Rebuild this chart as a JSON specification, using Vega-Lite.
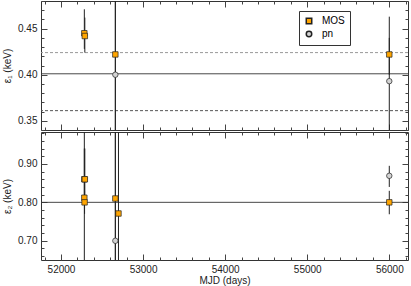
{
  "$schema": "https://vega.github.io/schema/vega-lite/v6.json",
  "padding": {"left": 2, "top": 0, "right": 4, "bottom": 0},
  "spacing": 0,
  "config": {
    "font": "Liberation Sans",
    "view": {"stroke": "#333", "strokeWidth": 1},
    "axis": {"grid": false, "labelFont": "Liberation Sans", "titleFont": "Liberation Sans", "labelFontSize": 10, "titleFontSize": 10, "titleFontWeight": "normal", "labelColor": "#222", "titleColor": "#222", "tickColor": "#444", "domain": false},
    "legend": {"labelFont": "Liberation Sans", "labelFontSize": 10}
  },
  "datasets": {
    "p1": [
      {"mjd": 52284, "e": 0.445, "lo": 0.428, "hi": 0.471, "inst": "MOS"},
      {"mjd": 52290, "e": 0.442, "lo": 0.424, "hi": 0.462, "inst": "MOS"},
      {"mjd": 52662, "e": 0.422, "lo": 0.30, "hi": 0.50, "inst": "MOS"},
      {"mjd": 52662, "e": 0.400, "lo": 0.30, "hi": 0.50, "inst": "pn"},
      {"mjd": 56000, "e": 0.422, "lo": 0.40, "hi": 0.463, "inst": "MOS"},
      {"mjd": 56000, "e": 0.393, "lo": 0.30, "hi": 0.44, "inst": "pn"}
    ],
    "p2": [
      {"mjd": 52284, "e": 0.86, "lo": 0.80, "hi": 0.94, "inst": "MOS"},
      {"mjd": 52290, "e": 0.86, "lo": 0.81, "hi": 0.94, "inst": "MOS"},
      {"mjd": 52284, "e": 0.812, "lo": 0.60, "hi": 1.00, "inst": "MOS"},
      {"mjd": 52287, "e": 0.80, "lo": 0.77, "hi": 0.83, "inst": "MOS"},
      {"mjd": 52662, "e": 0.81, "lo": 0.60, "hi": 1.00, "inst": "MOS"},
      {"mjd": 52662, "e": 0.70, "lo": 0.60, "hi": 1.00, "inst": "pn"},
      {"mjd": 52700, "e": 0.771, "lo": 0.60, "hi": 1.00, "inst": "MOS"},
      {"mjd": 56000, "e": 0.869, "lo": 0.84, "hi": 0.895, "inst": "pn"},
      {"mjd": 56000, "e": 0.80, "lo": 0.769, "hi": 0.83, "inst": "MOS"}
    ],
    "ref": [
      {"panel": 1, "y": 0.401, "kind": "solid"},
      {"panel": 1, "y": 0.424, "kind": "light"},
      {"panel": 1, "y": 0.361, "kind": "dark"},
      {"panel": 2, "y": 0.80, "kind": "solid"}
    ]
  },
  "resolve": {"scale": {"x": "independent", "y": "independent", "fill": "independent", "shape": "independent"}, "legend": {"fill": "independent", "shape": "independent"}},
  "vconcat": [
    {
      "width": 367, "height": 129,
      "resolve": {"axis": {"x": "independent", "y": "independent"}},
      "layer": [
        {
          "data": {"name": "ref"},
          "transform": [{"filter": "datum.panel == 1 && datum.kind == 'solid'"}],
          "mark": {"type": "rule", "stroke": "#333", "strokeWidth": 0.9},
          "encoding": {"y": {"field": "y", "type": "quantitative", "scale": {"domain": [0.34, 0.48], "nice": false, "zero": false}, "axis": null}}
        },
        {
          "data": {"name": "ref"},
          "transform": [{"filter": "datum.panel == 1 && datum.kind == 'light'"}],
          "mark": {"type": "rule", "stroke": "#999", "strokeWidth": 1, "strokeDash": [3, 2]},
          "encoding": {"y": {"field": "y", "type": "quantitative", "scale": {"domain": [0.34, 0.48], "nice": false, "zero": false}, "axis": null}}
        },
        {
          "data": {"name": "ref"},
          "transform": [{"filter": "datum.panel == 1 && datum.kind == 'dark'"}],
          "mark": {"type": "rule", "stroke": "#555", "strokeWidth": 1, "strokeDash": [3, 2]},
          "encoding": {"y": {"field": "y", "type": "quantitative", "scale": {"domain": [0.34, 0.48], "nice": false, "zero": false}, "axis": null}}
        },
        {
          "data": {"name": "p1"},
          "mark": {"type": "rule", "stroke": "#222", "strokeWidth": 1, "clip": true},
          "encoding": {
            "x": {"field": "mjd", "type": "quantitative", "scale": {"domain": [51756, 56228], "nice": false, "zero": false},
                  "axis": {"orient": "top", "labels": false, "title": null, "values": [52000, 53000, 54000, 55000, 56000], "tickSize": -6}},
            "y": {"field": "lo", "type": "quantitative", "scale": {"domain": [0.34, 0.48], "nice": false, "zero": false},
                  "axis": {"orient": "right", "labels": false, "title": null, "values": [0.35, 0.40, 0.45], "tickSize": -6}},
            "y2": {"field": "hi"}
          }
        },
        {
          "data": {"name": "p1"},
          "mark": {"type": "point", "opacity": 0},
          "encoding": {
            "x": {"field": "mjd", "type": "quantitative", "scale": {"domain": [51756, 56228], "nice": false, "zero": false},
                  "axis": {"orient": "top", "labels": false, "title": null, "values": [51800, 52200, 52400, 52600, 52800, 53200, 53400, 53600, 53800, 54200, 54400, 54600, 54800, 55200, 55400, 55600, 55800, 56200], "tickSize": -3}},
            "y": {"field": "e", "type": "quantitative", "scale": {"domain": [0.34, 0.48], "nice": false, "zero": false},
                  "axis": {"orient": "right", "labels": false, "title": null, "values": [0.34, 0.36, 0.37, 0.38, 0.39, 0.41, 0.42, 0.43, 0.44, 0.46, 0.47, 0.48], "tickSize": -3}}
          }
        },
        {
          "data": {"name": "p1"},
          "mark": {"type": "point", "opacity": 0},
          "encoding": {
            "x": {"field": "mjd", "type": "quantitative", "scale": {"domain": [51756, 56228], "nice": false, "zero": false},
                  "axis": {"orient": "bottom", "labels": false, "title": null, "values": [51800, 52200, 52400, 52600, 52800, 53200, 53400, 53600, 53800, 54200, 54400, 54600, 54800, 55200, 55400, 55600, 55800, 56200], "tickSize": -3}},
            "y": {"field": "e", "type": "quantitative", "scale": {"domain": [0.34, 0.48], "nice": false, "zero": false},
                  "axis": {"orient": "left", "labels": false, "title": null, "values": [0.34, 0.36, 0.37, 0.38, 0.39, 0.41, 0.42, 0.43, 0.44, 0.46, 0.47, 0.48], "tickSize": -3}}
          }
        },
        {
          "data": {"name": "p1"},
          "mark": {"type": "point", "opacity": 0},
          "encoding": {
            "x": {"field": "mjd", "type": "quantitative", "scale": {"domain": [51756, 56228], "nice": false, "zero": false},
                  "axis": {"orient": "bottom", "labels": false, "title": null, "values": [52000, 53000, 54000, 55000, 56000], "tickSize": -6}},
            "y": {"field": "e", "type": "quantitative", "scale": {"domain": [0.34, 0.48], "nice": false, "zero": false},
                  "axis": {"orient": "left", "labels": false, "title": null, "values": [0.35, 0.40, 0.45], "tickSize": -6}}
          }
        },
        {
          "data": {"name": "p1"},
          "mark": {"type": "point", "filled": true, "size": 30, "stroke": "#222", "strokeWidth": 0.7, "opacity": 1},
          "encoding": {
            "x": {"field": "mjd", "type": "quantitative", "scale": {"domain": [51756, 56228], "nice": false, "zero": false}, "axis": null},
            "y": {"field": "e", "type": "quantitative", "scale": {"domain": [0.34, 0.48], "nice": false, "zero": false},
                  "axis": {"orient": "left", "ticks": false, "values": [0.35, 0.40, 0.45], "format": ".2f", "labelPadding": 4, "title": "ε₁ (keV)", "titlePadding": 5}},
            "fill": {"field": "inst", "type": "nominal", "scale": {"domain": ["MOS", "pn"], "range": ["#FFA500", "#D3D3D3"]},
                     "legend": {"title": null, "orient": "none", "legendX": 258, "legendY": 10, "strokeColor": "#333", "padding": 5, "symbolSize": 30, "rowPadding": 1, "labelOffset": 8,
                                "encode": {"symbols": {"update": {"stroke": {"value": "#222"}, "strokeWidth": {"value": 0.7}}}}}},
            "shape": {"field": "inst", "type": "nominal", "scale": {"domain": ["MOS", "pn"], "range": ["square", "circle"]},
                      "legend": {"title": null, "orient": "none", "legendX": 258, "legendY": 10, "strokeColor": "#333", "padding": 5, "symbolSize": 30, "rowPadding": 1, "labelOffset": 8,
                                 "encode": {"symbols": {"update": {"stroke": {"value": "#222"}, "strokeWidth": {"value": 0.7}}}}}}
          }
        }
      ]
    },
    {
      "width": 367, "height": 128,
      "resolve": {"axis": {"x": "independent", "y": "independent"}},
      "layer": [
        {
          "data": {"name": "ref"},
          "transform": [{"filter": "datum.panel == 2"}],
          "mark": {"type": "rule", "stroke": "#333", "strokeWidth": 0.9},
          "encoding": {"y": {"field": "y", "type": "quantitative", "scale": {"domain": [0.65, 0.983], "nice": false, "zero": false}, "axis": null}}
        },
        {
          "data": {"name": "p2"},
          "mark": {"type": "rule", "stroke": "#222", "strokeWidth": 1, "clip": true},
          "encoding": {
            "x": {"field": "mjd", "type": "quantitative", "scale": {"domain": [51756, 56228], "nice": false, "zero": false},
                  "axis": {"orient": "top", "labels": false, "title": null, "values": [52000, 53000, 54000, 55000, 56000], "tickSize": -6}},
            "y": {"field": "lo", "type": "quantitative", "scale": {"domain": [0.65, 0.983], "nice": false, "zero": false},
                  "axis": {"orient": "right", "labels": false, "title": null, "values": [0.70, 0.80, 0.90], "tickSize": -6}},
            "y2": {"field": "hi"}
          }
        },
        {
          "data": {"name": "p2"},
          "mark": {"type": "point", "opacity": 0},
          "encoding": {
            "x": {"field": "mjd", "type": "quantitative", "scale": {"domain": [51756, 56228], "nice": false, "zero": false},
                  "axis": {"orient": "top", "labels": false, "title": null, "values": [51800, 52200, 52400, 52600, 52800, 53200, 53400, 53600, 53800, 54200, 54400, 54600, 54800, 55200, 55400, 55600, 55800, 56200], "tickSize": -3}},
            "y": {"field": "e", "type": "quantitative", "scale": {"domain": [0.65, 0.983], "nice": false, "zero": false},
                  "axis": {"orient": "right", "labels": false, "title": null, "values": [0.66, 0.68, 0.72, 0.74, 0.76, 0.78, 0.82, 0.84, 0.86, 0.88, 0.92, 0.94, 0.96, 0.98], "tickSize": -3}}
          }
        },
        {
          "data": {"name": "p2"},
          "mark": {"type": "point", "opacity": 0},
          "encoding": {
            "x": {"field": "mjd", "type": "quantitative", "scale": {"domain": [51756, 56228], "nice": false, "zero": false},
                  "axis": {"orient": "bottom", "labels": false, "title": null, "values": [51800, 52200, 52400, 52600, 52800, 53200, 53400, 53600, 53800, 54200, 54400, 54600, 54800, 55200, 55400, 55600, 55800, 56200], "tickSize": -3}},
            "y": {"field": "e", "type": "quantitative", "scale": {"domain": [0.65, 0.983], "nice": false, "zero": false},
                  "axis": {"orient": "left", "labels": false, "title": null, "values": [0.66, 0.68, 0.72, 0.74, 0.76, 0.78, 0.82, 0.84, 0.86, 0.88, 0.92, 0.94, 0.96, 0.98], "tickSize": -3}}
          }
        },
        {
          "data": {"name": "p2"},
          "mark": {"type": "point", "opacity": 0},
          "encoding": {
            "x": {"field": "mjd", "type": "quantitative", "scale": {"domain": [51756, 56228], "nice": false, "zero": false},
                  "axis": {"orient": "bottom", "labels": false, "title": null, "values": [52000, 53000, 54000, 55000, 56000], "tickSize": -6}},
            "y": {"field": "e", "type": "quantitative", "scale": {"domain": [0.65, 0.983], "nice": false, "zero": false},
                  "axis": {"orient": "left", "labels": false, "title": null, "values": [0.70, 0.80, 0.90], "tickSize": -6}}
          }
        },
        {
          "data": {"name": "p2"},
          "mark": {"type": "point", "filled": true, "size": 30, "stroke": "#222", "strokeWidth": 0.7, "opacity": 1},
          "encoding": {
            "x": {"field": "mjd", "type": "quantitative", "scale": {"domain": [51756, 56228], "nice": false, "zero": false},
                  "axis": {"orient": "bottom", "ticks": false, "values": [52000, 53000, 54000, 55000, 56000], "format": "d", "labelPadding": 4, "title": "MJD (days)", "titlePadding": 1}},
            "y": {"field": "e", "type": "quantitative", "scale": {"domain": [0.65, 0.983], "nice": false, "zero": false},
                  "axis": {"orient": "left", "ticks": false, "values": [0.70, 0.80, 0.90], "format": ".2f", "labelPadding": 4, "title": "ε₂ (keV)", "titlePadding": 5}},
            "fill": {"field": "inst", "type": "nominal", "scale": {"domain": ["MOS", "pn"], "range": ["#FFA500", "#D3D3D3"]}, "legend": null},
            "shape": {"field": "inst", "type": "nominal", "scale": {"domain": ["MOS", "pn"], "range": ["square", "circle"]}, "legend": null}
          }
        }
      ]
    }
  ]
}
